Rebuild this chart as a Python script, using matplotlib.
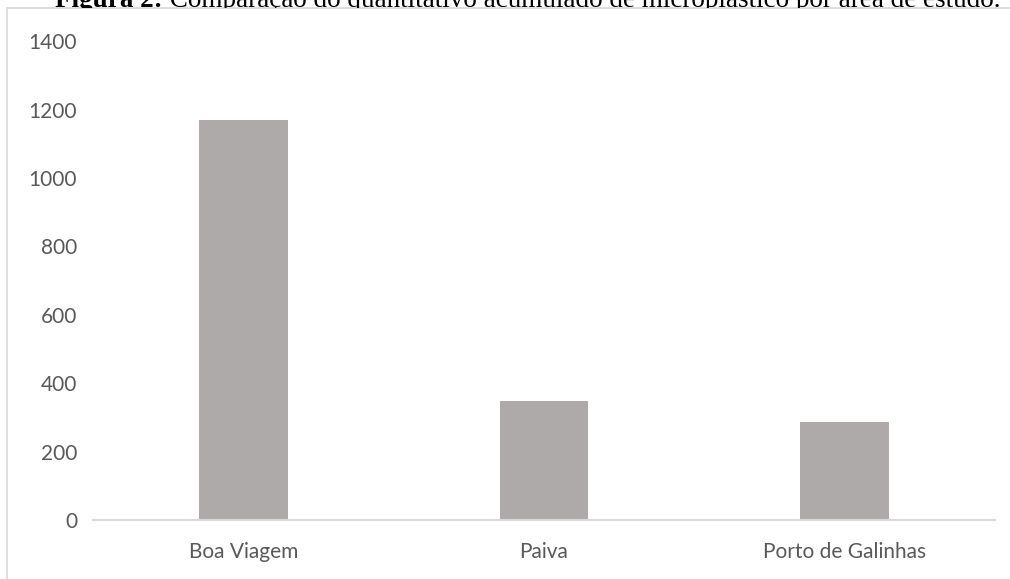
import matplotlib
matplotlib.use("Agg")
import matplotlib.pyplot as plt
from matplotlib.patches import Rectangle
from matplotlib.transforms import offset_copy

# data
areas = ["Boa Viagem", "Paiva", "Porto de Galinhas"]
counts = [1170, 347, 288]
y_ticks = [0, 200, 400, 600, 800, 1000, 1200, 1400]

title_bold = "Figura 2:"
title_rest = " Comparação do quantitativo acumulado de microplástico por área de estudo."

BAR_COLOR = "#aeaaaa"
LINE_COLOR = "#d9d9d9"
TEXT_COLOR = "#595959"

W, H = 1010, 579
FRAME_TOP = 8  # px from the top of the image
fig = plt.figure(figsize=(W / 100, H / 100), dpi=100)

# chart frame (Excel chart area), only its left and top edges are visible
fig.patches.append(Rectangle((7 / W, -0.1), 1.2, 1 - FRAME_TOP / H + 0.1,
                             transform=fig.transFigure, facecolor="white",
                             edgecolor=LINE_COLOR, lw=1.2, zorder=-1))

# caption sits above the frame and is cut off by it
ax_t = fig.add_axes([0, 1 - FRAME_TOP / H, 1, FRAME_TOP / H])
ax_t.axis("off")
t1 = ax_t.text(55 / W, 1 / FRAME_TOP, title_bold, transform=ax_t.transAxes,
               family="Liberation Serif", fontsize=19.5, fontweight="bold",
               va="baseline", ha="left", clip_on=True)
fig.canvas.draw()
w1 = t1.get_window_extent(renderer=fig.canvas.get_renderer()).width
ax_t.text(55 / W, 1 / FRAME_TOP, title_rest,
          transform=offset_copy(ax_t.transAxes, fig=fig, x=w1, y=0, units="dots"),
          family="Liberation Serif", fontsize=19.5, va="baseline", ha="left",
          clip_on=True)

ax = fig.add_axes([93 / W, 59 / H, 902 / W, 478.8 / H])
x = range(len(areas))
ax.bar(x, counts, width=0.294, color=BAR_COLOR, zorder=2)

ax.set_xlim(-0.5, len(areas) - 0.5)
ax.set_ylim(0, 1400)
ax.set_yticks(y_ticks)
ax.set_xticks(list(x))
ax.set_xticklabels(areas)

for side in ["top", "right", "left"]:
    ax.spines[side].set_visible(False)
ax.spines["bottom"].set_color(LINE_COLOR)
ax.spines["bottom"].set_linewidth(1.5)
ax.spines["bottom"].set_zorder(3)

ax.tick_params(axis="both", length=0, labelcolor=TEXT_COLOR, labelsize=15)
ax.tick_params(axis="y", pad=11.5)
ax.tick_params(axis="x", pad=16)
for lab in ax.get_xticklabels() + ax.get_yticklabels():
    lab.set_family("Lato")
ax.patch.set_alpha(0)

fig.savefig("out.png", dpi=100)
